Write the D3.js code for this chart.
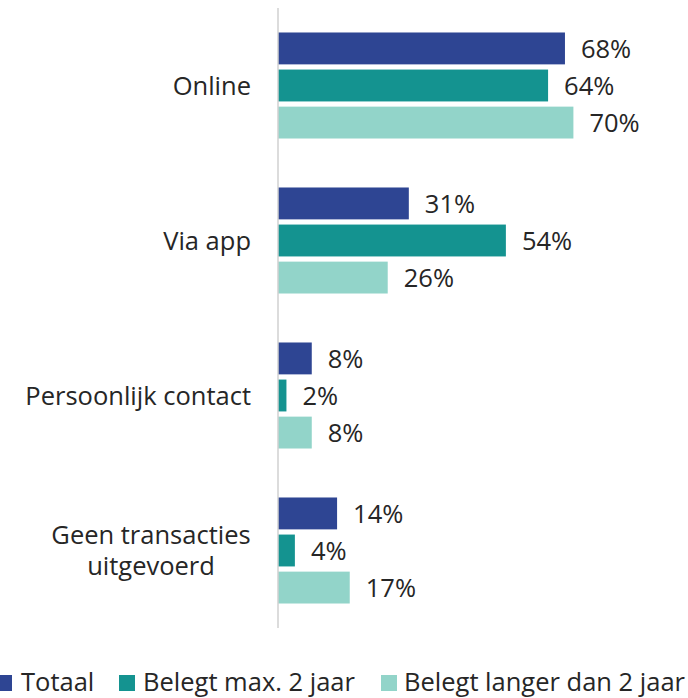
<!DOCTYPE html>
<html>
<head>
<meta charset="utf-8">
<script src="https://cdn.jsdelivr.net/npm/d3@7"></script>
<style>
  body { margin: 0; background: #fff; }
  svg { display: block; font-family: "Open Sans", sans-serif; }
</style>
</head>
<body>
<svg id="chart" width="688" height="698"></svg>
<script>
const categories = [
  ["Online"],
  ["Via app"],
  ["Persoonlijk contact"],
  ["Geen transacties", "uitgevoerd"],
];
const seriesNames = ["Totaal", "Belegt max. 2 jaar", "Belegt langer dan 2 jaar"];
const totaal = [68, 31, 8, 14];
const maxTwee = [64, 54, 2, 4];
const langer = [70, 26, 8, 17];
const colors = ["#2E4593", "#149390", "#92D4C9"];

const series = [totaal, maxTwee, langer];
const svg = d3.select("#chart");
const fontSize = 25.5;

const axisX = 278;
const plotTop = 8, plotBottom = 628;

const x = d3.scaleLinear().domain([0, 100]).range([axisX, axisX + 422]);
const y0 = d3.scaleBand()
  .domain(categories.map((c, i) => i))
  .range([plotTop, plotBottom])
  .paddingInner(0.316)
  .paddingOuter(0.158);
const y1 = d3.scaleBand()
  .domain(d3.range(series.length))
  .range([0, y0.bandwidth()])
  .paddingInner(0.14);

const groups = svg.selectAll("g.group")
  .data(categories)
  .join("g")
  .attr("class", "group")
  .attr("transform", (d, i) => `translate(0,${y0(i)})`);

groups.each(function (cat, i) {
  const g = d3.select(this);
  series.forEach((vals, s) => {
    g.append("rect")
      .attr("x", x(0))
      .attr("y", y1(s))
      .attr("width", x(vals[i]) - x(0))
      .attr("height", y1.bandwidth())
      .attr("fill", colors[s]);
    g.append("text")
      .attr("x", x(vals[i]) + 16)
      .attr("y", y1(s) + y1.bandwidth() / 2)
      .attr("dy", "0.36em")
      .attr("font-size", fontSize)
      .attr("fill", "#262626")
      .text(vals[i] + "%");
  });
  const lineH = 31;
  const cy = y0.bandwidth() / 2;
  cat.forEach((line, k) => {
    g.append("text")
      .attr("x", cat.length > 1 ? 151 : 251)
      .attr("text-anchor", cat.length > 1 ? "middle" : "end")
      .attr("y", cy + (k - (cat.length - 1) / 2) * lineH)
      .attr("dy", "0.36em")
      .attr("font-size", fontSize)
      .attr("fill", "#262626")
      .text(line);
  });
});

svg.append("line")
  .attr("x1", axisX).attr("x2", axisX)
  .attr("y1", plotTop).attr("y2", plotBottom)
  .attr("stroke", "#d0d0d0")
  .attr("stroke-width", 1.5);

// legend
const legendItems = [
  { sq: -4, tx: 21 },
  { sq: 119, tx: 143 },
  { sq: 381, tx: 404 },
];
const legend = svg.append("g").attr("transform", "translate(0,682)");
seriesNames.forEach((name, s) => {
  legend.append("rect")
    .attr("x", legendItems[s].sq)
    .attr("y", -7)
    .attr("width", 16)
    .attr("height", 16)
    .attr("fill", colors[s]);
  legend.append("text")
    .attr("x", legendItems[s].tx)
    .attr("y", 0)
    .attr("dy", "0.36em")
    .attr("font-size", fontSize)
    .attr("fill", "#262626")
    .text(name);
});
</script>
</body>
</html>
